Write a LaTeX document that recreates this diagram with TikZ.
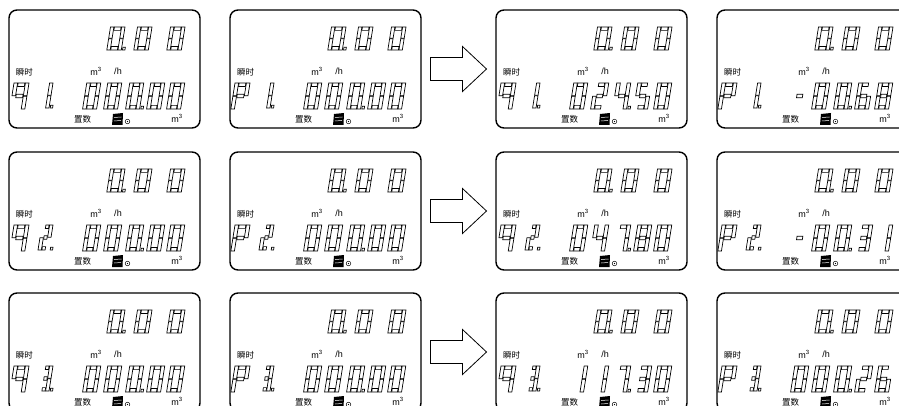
\documentclass[tikz,border=0pt]{standalone}
\usepackage{fontspec}
\setmainfont{Liberation Sans}
\newfontfamily\cjk{Noto Sans CJK SC}

% segment sets of the seven-segment glyphs
\newcommand\dzero{a,b,c,d,e,f}
\newcommand\done{b,c}
\newcommand\dtwo{a,b,g,e,d}
\newcommand\dthree{a,b,g,c,d}
\newcommand\dfour{f,g,b,c}
\newcommand\dfive{a,f,g,c,d}
\newcommand\dsix{a,f,g,e,c,d}
\newcommand\dseven{a,b,c}
\newcommand\deight{a,b,c,d,e,f,g}
\newcommand\dnine{a,b,c,f,g}
\newcommand\dminus{g}
\newcommand\dP{a,b,e,f,g}

% outlined bar between two corners (in the slanted glyph frame)
\newcommand\lcdbar[4]{\draw[lcdseg] (#1,#2) -- (#3,#2) -- (#3,#4) -- (#1,#4) -- cycle;}
% segments; \lW, \lH = glyph box, \sT = stroke, \sh = half stroke, \sG = gap
\newcommand\lcdsega{\lcdbar{\sT+\sG}{0}{\lW-\sT-\sG}{\sT}}
\newcommand\lcdsegd{\lcdbar{\sT+\sG}{\lH-\sT}{\lW-\sT-\sG}{\lH}}
\newcommand\lcdsegg{\lcdbar{\sT+\sG}{\lH/2-\sh}{\lW-\sT-\sG}{\lH/2+\sh}}
\newcommand\lcdsegf{\lcdbar{0}{0}{\sT}{\lH/2-\sG/2}}
\newcommand\lcdsege{\lcdbar{0}{\lH/2+\sG/2}{\sT}{\lH}}
\newcommand\lcdsegb{\lcdbar{\lW-\sT}{0}{\lW}{\lH/2-\sG/2}}
\newcommand\lcdsegc{\lcdbar{\lW-\sT}{\lH/2+\sG/2}{\lW}{\lH}}
\newcommand\lcdsegp{\lcdbar{\lW+1.2}{\lH-2.8}{\lW+3.6}{\lH}}

% one slanted character: left, top, width, height, stroke, segments
\newcommand\lcdchar[6]{%
  \begin{scope}[shift={(#1,#2)},x={(1pt,0pt)},y={(-0.16pt,-1pt)}]
    \pgfmathsetmacro\lW{#3}\pgfmathsetmacro\lH{#4}%
    \pgfmathsetmacro\sT{#5}\pgfmathsetmacro\sh{#5/2}\def\sG{0.5}%
    \edef\seglist{#6}%
    \foreach \s in \seglist {\csname lcdseg\s\endcsname}%
  \end{scope}}

% five-digit totaliser with the point after the third digit
\newcommand\readout[5]{%
  \lcdchar{77.75}{73}{14}{26}{3.6}{#1}%
  \lcdchar{98.75}{73}{14}{26}{3.6}{#2}%
  \lcdchar{120.75}{73}{14}{26}{3.6}{#3,p}%
  \lcdchar{141.75}{73}{14}{26}{3.6}{#4}%
  \lcdchar{161.75}{73}{14}{26}{3.6}{#5}}

% a whole display: name, left, top, channel letter, channel number, reading
\newcommand\lcdpanel[6]{%
  \node[panel,anchor=north west] (#1) at (#2,#3) {};
  \begin{scope}[shift={(#2,#3)}]
    \lcdchar{101.5}{17}{14.5}{23}{3.4}{\dzero,p}
    \lcdchar{128.5}{17}{14.5}{23}{3.4}{\dzero}
    \lcdchar{161.5}{17}{14.5}{23}{3.4}{\dzero}
    \node[cjklabel] (#1-inst) at (15.5,62) {瞬时};
    \node[unitlabel] (#1-rateunit) at (87,61) {m\textsuperscript{3}};
    \node[unitlabel] (#1-perhour) at (109,61) {/h};
    \lcdchar{5}{73}{15}{26}{3.6}{#4}
    \lcdchar{33}{73}{11}{25}{3.4}{#5,p}
    \readout#6
    \node[cjklabel] (#1-preset) at (73.5,109) {置数};
    \fill[black] (104,104) -- (114,103) -- (113.5,115) -- (103,115) -- cycle;
    \draw[white,line width=0.5pt] (105,107.5) -- (112.5,107) (105,111) -- (112,110.5);
    \draw[line width=0.45pt] (118.5,111.5) circle (2.3);
    \fill (118.5,111.5) circle (0.6);
    \node[unitlabel] (#1-volunit) at (168,108) {m\textsuperscript{3}};
  \end{scope}}

% block arrow between two displays of one row
\newcommand\steparrow[3]{%
  \path (#2.east) -- (#3.west) coordinate[pos=0.5] (#1);
  \draw[flowarrow] (#1) ++(-28,-11.5) -- ++(32,0) -- ++(0,-11) -- ++(24,22.5)
    -- ++(-24,22.5) -- ++(0,-11) -- ++(-32,0) -- cycle;}

\tikzset{
  lcdseg/.style={draw=black,line width=0.7pt,line join=miter,fill=white},
  panel/.style={draw=black,line width=1.4pt,rounded corners=8pt,
    minimum width=191pt,minimum height=118pt,inner sep=0pt,outer sep=0pt},
  flowarrow/.style={draw=black,line width=0.8pt,line join=miter},
  cjklabel/.style={inner sep=0pt,font=\cjk\fontsize{8.5}{9}\selectfont},
  unitlabel/.style={inner sep=0pt,font=\fontsize{9}{9}\selectfont},
}

\begin{document}
\begin{tikzpicture}[x=1pt,y=-1pt]
  \useasboundingbox (0,0) rectangle (899,406);
  \fill[white] (0,0) rectangle (899,406);
  \clip (0,0) rectangle (899,406);

  % row 1
  \lcdpanel{r1c1}{9}{10}{\dnine}{\done}{{\dzero}{\dzero}{\dzero}{\dzero}{\dzero}}
  \lcdpanel{r1c2}{230}{10}{\dP}{\done}{{\dzero}{\dzero}{\dzero}{\dzero}{\dzero}}
  \lcdpanel{r1c3}{496}{10}{\dnine}{\done}{{\dzero}{\dtwo}{\dfour}{\dfive}{\dzero}}
  \lcdpanel{r1c4}{717}{10}{\dP}{\done}{{\dminus}{\dzero}{\dzero}{\dsix}{\deight}}
  % row 2
  \lcdpanel{r2c1}{9}{152}{\dnine}{\dtwo}{{\dzero}{\dzero}{\dzero}{\dzero}{\dzero}}
  \lcdpanel{r2c2}{230}{152}{\dP}{\dtwo}{{\dzero}{\dzero}{\dzero}{\dzero}{\dzero}}
  \lcdpanel{r2c3}{496}{152}{\dnine}{\dtwo}{{\dzero}{\dfour}{\dseven}{\deight}{\dzero}}
  \lcdpanel{r2c4}{717}{152}{\dP}{\dtwo}{{\dminus}{\dzero}{\dzero}{\dthree}{\done}}
  % row 3
  \lcdpanel{r3c1}{9}{293}{\dnine}{\dthree}{{\dzero}{\dzero}{\dzero}{\dzero}{\dzero}}
  \lcdpanel{r3c2}{230}{293}{\dP}{\dthree}{{\dzero}{\dzero}{\dzero}{\dzero}{\dzero}}
  \lcdpanel{r3c3}{496}{293}{\dnine}{\dthree}{{\done}{\done}{\dseven}{\dthree}{\dzero}}
  \lcdpanel{r3c4}{717}{293}{\dP}{\dthree}{{\dzero}{\dzero}{\dzero}{\dtwo}{\dsix}}

  \steparrow{a1}{r1c2}{r1c3}
  \steparrow{a2}{r2c2}{r2c3}
  \steparrow{a3}{r3c2}{r3c3}
\end{tikzpicture}
\end{document}
